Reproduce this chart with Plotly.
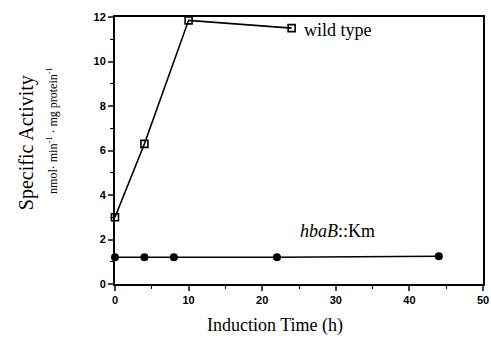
import plotly.graph_objects as go

wt_time = [0, 4, 10, 24]
wt_activity = [3.0, 6.3, 11.85, 11.5]
ko_time = [0, 4, 8, 22, 44]
ko_activity = [1.2, 1.2, 1.2, 1.2, 1.25]

x_ticks = [0, 10, 20, 30, 40, 50]
y_ticks = [0, 2, 4, 6, 8, 10, 12]

SERIF = "Liberation Serif, Times New Roman, serif"
SANS = "Liberation Sans, Arial, sans-serif"

fig = go.Figure()
fig.add_trace(go.Scatter(
    x=wt_time, y=wt_activity, mode="lines+markers",
    line=dict(color="black", width=1.6),
    marker=dict(symbol="square-open", size=7, color="black", line=dict(width=1.6)),
    cliponaxis=False, showlegend=False))
fig.add_trace(go.Scatter(
    x=ko_time, y=ko_activity, mode="lines+markers",
    line=dict(color="black", width=1.6),
    marker=dict(symbol="circle", size=8, color="black"),
    cliponaxis=False, showlegend=False))

fig.update_layout(
    width=491, height=344,
    margin=dict(l=115, r=8, t=17, b=60),
    paper_bgcolor="white", plot_bgcolor="white",
    font=dict(family=SERIF, color="black"),
    xaxis=dict(range=[0, 50], tickvals=x_ticks, ticktext=[f"<b>{v}</b>" for v in x_ticks],
               ticks="outside", ticklen=5, automargin=False,
               tickwidth=1.5, showline=True, linewidth=2, linecolor="black",
               mirror=True, showgrid=False, zeroline=False,
               tickfont=dict(family=SANS, size=11, color="black"),
               minor=dict(tickvals=[5, 15, 25, 35, 45], ticks="outside", ticklen=3, tickwidth=1.2, tickcolor="black")),
    yaxis=dict(range=[0, 12], tickvals=y_ticks, ticktext=[f"<b>{v}</b>" for v in y_ticks],
               ticks="outside", ticklen=5, automargin=False,
               tickwidth=1.5, showline=True, linewidth=2, linecolor="black",
               mirror=True, showgrid=False, zeroline=False,
               tickfont=dict(family=SANS, size=11, color="black"),
               minor=dict(tickvals=[1, 3, 5, 7, 9, 11], ticks="outside", ticklen=3, tickwidth=1.2, tickcolor="black")),
)

fig.add_annotation(xref="paper", yref="paper", x=0.435, y=-0.154,
                   text="Induction Time (h)", showarrow=False,
                   font=dict(family=SERIF, size=18), xanchor="center", yanchor="middle")
fig.add_annotation(xref="paper", yref="paper", x=-0.24, y=0.53,
                   text="Specific Activity", textangle=-90, showarrow=False,
                   font=dict(family=SERIF, size=20), xanchor="center", yanchor="middle")
fig.add_annotation(xref="paper", yref="paper", x=-0.17, y=0.575,
                   text="nmol· min<sup>-1</sup> · mg protein<sup>-1</sup>", textangle=-90,
                   showarrow=False, font=dict(family=SERIF, size=12), xanchor="center", yanchor="middle")
fig.add_annotation(x=25.4, y=11.4, xref="x", yref="y", text="wild type",
                   showarrow=False, xanchor="left", yanchor="middle", font=dict(family=SERIF, size=18))
fig.add_annotation(x=24.8, y=2.4, xref="x", yref="y", text="<i>hbaB</i>::Km",
                   showarrow=False, xanchor="left", yanchor="middle", font=dict(family=SERIF, size=18))

fig.write_html("out.html", config={"displayModeBar": False},
               post_script="document.body.style.margin='0';document.body.style.overflow='hidden';")
